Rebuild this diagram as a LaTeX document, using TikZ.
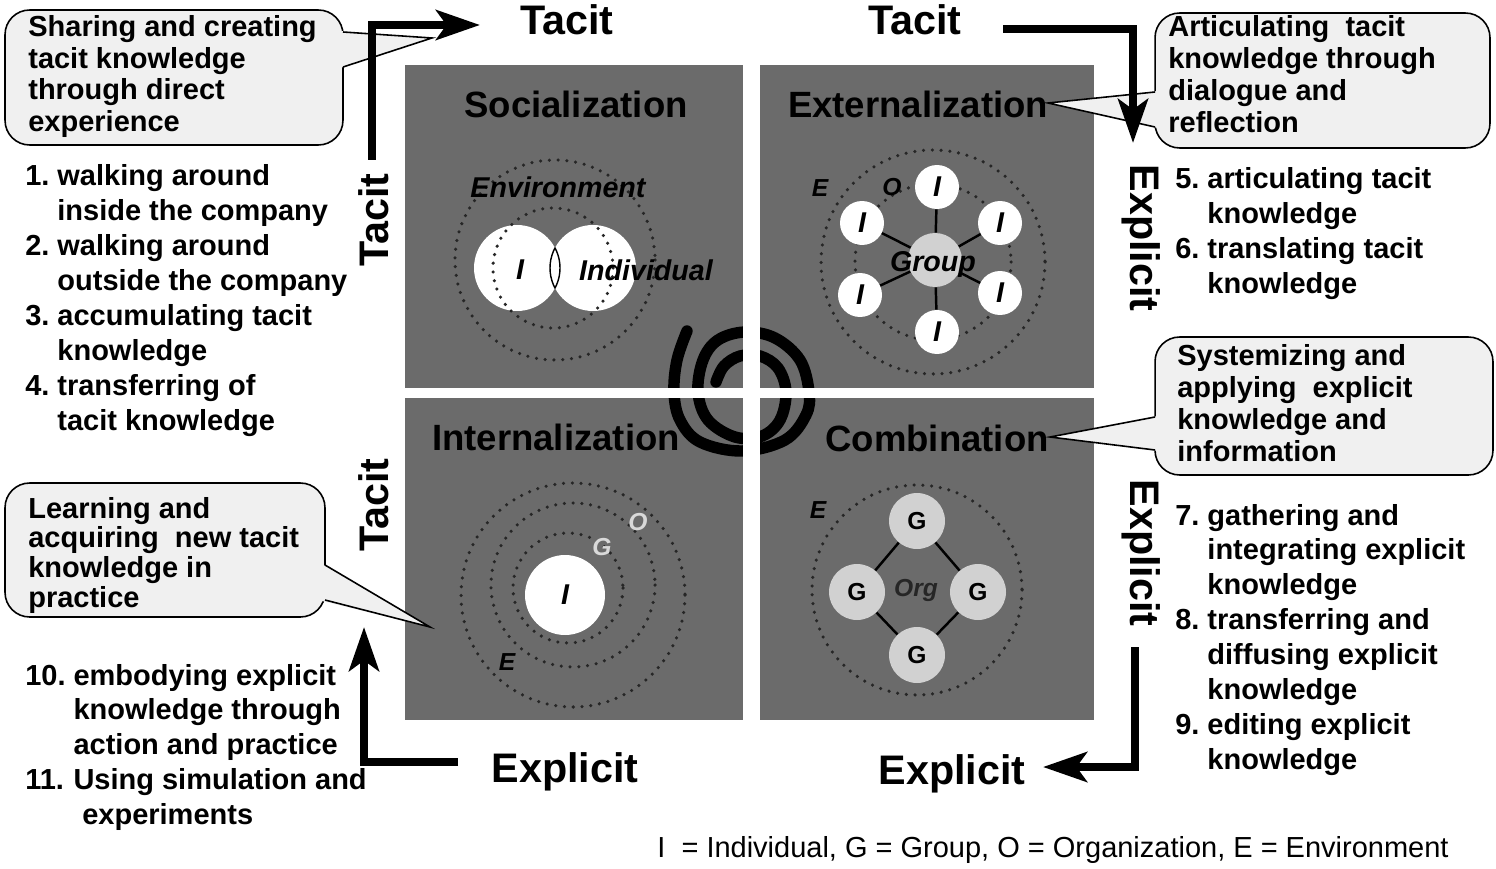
\documentclass[tikz,border=0pt]{standalone}
\usepackage{fontspec}
\setmainfont{Liberation Sans}
\usetikzlibrary{arrows.meta,positioning,calc}

\newcommand{\listfont}{\fontsize{16.5}{19.9}\selectfont\bfseries}
\newcommand{\axisfont}{\fontsize{23.5}{27}\selectfont\bfseries}
\newcommand{\quadfont}{\fontsize{20.8}{24}\selectfont\bfseries}
\newcommand{\tagfont}{\fontsize{16.3}{19}\selectfont\bfseries\itshape}
\newcommand{\lettfont}{\fontsize{14}{16}\selectfont\bfseries}

\tikzset{
  quad/.style={fill=black!58, inner sep=0, minimum width=6.76cm},
  quadtitle/.style={font=\quadfont, inner sep=0},
  callbox/.style={draw, line width=0.9pt, fill=black!6, rounded corners=14pt, inner sep=0},
  calltext/.style={anchor=base west, inner sep=0},
  listtext/.style={anchor=base west, inner sep=0, font=\listfont},
  axislabel/.style={font=\axisfont, inner sep=0},
  bigarrow/.style={line width=4.5pt, line join=miter, -{Stealth[length=25pt, width=17pt, inset=6pt]}},
  icirc/.style={circle, fill=white, minimum size=0.88cm, inner sep=0, font=\tagfont},
  gcirc/.style={circle, fill=black!18, minimum size=1.12cm, inner sep=0, font=\lettfont},
  envring/.style={draw=black!85, line width=2pt, dash pattern=on 0pt off 5pt, line cap=round},
  link/.style={line width=1.4pt},
  spiral/.style={line width=6.5pt, line cap=round},
}

\begin{document}
\begin{tikzpicture}[x=0.02cm, y=-0.02cm]
\useasboundingbox (0,0) rectangle (1496,868);
\fill[white] (0,0) rectangle (1496,868);

% the four modes
\node[quad, minimum height=6.46cm] (soc) at (574,226.5) {};
\node[quad, minimum width=6.68cm, minimum height=6.46cm] (ext) at (927,226.5) {};
\node[quad, minimum height=6.44cm] (int) at (574,559) {};
\node[quad, minimum width=6.68cm, minimum height=6.44cm] (com) at (927,559) {};

% socialization
\draw[envring] (555,260) circle (100);
\node[icirc, minimum size=1.72cm] (indL) at (517,268) {};
\node[icirc, minimum size=1.72cm] (indR) at (593,268) {};
\begin{scope}
  \clip (517,268) circle (43);
  \draw[line width=0.8pt] (593,268) circle (43);
\end{scope}
\begin{scope}
  \clip (593,268) circle (43);
  \draw[line width=0.8pt] (517,268) circle (43);
\end{scope}
\draw[envring] (553,268) circle (60);
\node[font=\tagfont] (envS) at (558,187) {Environment};
\node[font=\tagfont] (iS) at (520,270) {I};
\node[font=\tagfont] (indS) at (646,270) {Individual};

% externalization
\draw[envring] (933,262) circle (112);
\draw[envring] (933,262) circle (78);
\node[gcirc, minimum size=1.08cm] (grp) at (935,260) {};
\node[icirc] (iT) at (937,187) {I};
\node[icirc] (iUL) at (862,223) {I};
\node[icirc] (iUR) at (1000,223) {I};
\node[icirc] (iLL) at (860,295) {I};
\node[icirc] (iLR) at (1000,293) {I};
\node[icirc] (iB) at (937,332) {I};
\foreach \n in {iT,iUL,iUR,iLL,iLR,iB}
  \draw[link] (grp) -- (\n);
\node[font=\tagfont] (grpS) at (933,264) {Group};
\node[font=\lettfont\itshape] (eX) at (820,188) {E};
\node[font=\lettfont\itshape] (oX) at (892,187) {O};

% internalization
\draw[envring] (573,595) circle (112);
\draw[envring] (573,585) circle (82);
\draw[envring] (568,588) circle (55);
\node[icirc, minimum size=1.6cm] (iI) at (565,595) {I};
\node[font=\lettfont\itshape, text=black!15] (gI) at (602,547) {G};
\node[font=\lettfont\itshape, text=black!15] (oI) at (638,522) {O};
\node[font=\lettfont\itshape] (eI) at (507,662) {E};

% combination
\draw[envring] (917,590) circle (105);
\node[gcirc] (gT) at (917,521) {G};
\node[gcirc] (gL) at (857,592) {G};
\node[gcirc] (gR) at (978,592) {G};
\node[gcirc] (gB) at (917,655) {G};
\draw[link] (gT) -- (gR) -- (gB) -- (gL) -- (gT);
\node[font=\lettfont\itshape, text=black!85] (orgC) at (916,590) {Org};
\node[font=\lettfont\itshape] (eC) at (818,510) {E};

% titles
\node[quadtitle] (socT) at (576,104) {Socialization};
\node[quadtitle] (extT) at (918,104) {Externalization};
\node[quadtitle] (intT) at (556,437) {Internalization};
\node[quadtitle] (comT) at (937,438) {Combination};

% spiral, cut by the white cross
\draw[spiral] plot[smooth, tension=0.6] coordinates {(687,331) (677,360) (674,392) (680,420)
  (700,442) (742,451) (785,440) (806,415) (809,392) (800,360) (775,338) (745,332) (718,340)
  (703,360) (698,392) (708,420) (735,437) (762,436) (780,420) (786,392) (778,368) (760,356)
  (740,356) (724,366) (716,382)};
\fill[white] (743,65) rectangle (760,720);
\fill[white] (405,388) rectangle (1094,398);

% callouts
\node[callbox, minimum width=6.76cm, minimum height=2.7cm] (share) at (174,77.5) {};
\coordinate (shareTip) at (432,38);
\fill[black!6] (340,31) -- (shareTip) -- (340,68) -- cycle;
\draw[line width=0.9pt] (343,32) -- (shareTip) -- (343,67);
\node[calltext, font=\fontsize{16.5}{17.9}\selectfont\bfseries] (shareTxt) at (28,37)
  {\begin{tabular}[t]{@{}l@{}}Sharing and creating\\ tacit knowledge\\ through direct\\ experience\end{tabular}};

\node[callbox, minimum width=6.7cm, minimum height=2.7cm] (artic) at (1322.5,80.5) {};
\coordinate (articTip) at (1048,103);
\fill[black!6] (1158,91) -- (articTip) -- (1158,128) -- cycle;
\draw[line width=0.9pt] (1155,92) -- (articTip) -- (1155,127);
\node[calltext, font=\fontsize{16.5}{18.2}\selectfont\bfseries] (articTxt) at (1168,37)
  {\begin{tabular}[t]{@{}l@{}}Articulating\ \ tacit\\ knowledge through\\ dialogue and\\ reflection\end{tabular}};

\node[callbox, minimum width=6.76cm, minimum height=2.76cm] (system) at (1324,406) {};
\coordinate (systemTip) at (1050,437);
\fill[black!6] (1158,416) -- (systemTip) -- (1158,451) -- cycle;
\draw[line width=0.9pt] (1155,417) -- (systemTip) -- (1155,450);
\node[calltext, font=\fontsize{16.5}{18.4}\selectfont\bfseries] (systemTxt) at (1177,365)
  {\begin{tabular}[t]{@{}l@{}}Systemizing and\\ applying\ \ explicit\\ knowledge and\\ information\end{tabular}};

\node[callbox, minimum width=6.4cm, minimum height=2.68cm] (learn) at (165,550) {};
\coordinate (learnTip) at (430,627);
\fill[black!6] (322,564) -- (learnTip) -- (322,601) -- cycle;
\draw[line width=0.9pt] (325,565) -- (learnTip) -- (325,600);
\node[calltext, font=\fontsize{16.5}{16.8}\selectfont\bfseries] (learnTxt) at (28,518)
  {\begin{tabular}[t]{@{}l@{}}Learning and\\ acquiring\ \ new tacit\\ knowledge in\\ practice\end{tabular}};

% tacit / explicit axes
\coordinate (tlA) at (372,160);
\coordinate (tlB) at (372,25);
\coordinate (tlC) at (480,25);
\draw[bigarrow] (tlA) -- (tlB) -- (tlC);
\coordinate (trA) at (1003,29);
\coordinate (trB) at (1133,29);
\coordinate (trC) at (1133,143);
\draw[bigarrow] (trA) -- (trB) -- (trC);
\coordinate (brA) at (1135,647);
\coordinate (brB) at (1135,767);
\coordinate (brC) at (1043,767);
\draw[bigarrow] (brA) -- (brB) -- (brC);
\coordinate (blA) at (458,762);
\coordinate (blB) at (364,762);
\coordinate (blC) at (364,627);
\draw[bigarrow] (blA) -- (blB) -- (blC);

\node[axislabel] (tacitTop) at (567,20) {Tacit};
\node[axislabel] (tacitTopR) at (915,20) {Tacit};
\node[axislabel, anchor=base] (explBotL) at (565,782) {Explicit};
\node[axislabel, anchor=base] (explBotR) at (952,784) {Explicit};
\node[axislabel, rotate=90] (tacitLeftT) at (374,220) {Tacit};
\node[axislabel, rotate=90] (tacitLeftB) at (374,505) {Tacit};
\node[axislabel, rotate=-90] (explRightT) at (1141,238) {Explicit};
\node[axislabel, rotate=-90] (explRightB) at (1141,553) {Explicit};

% activity lists
\node[listtext] (listSoc) at (25,186)
  {\begin{tabular}[t]{@{}l@{\hspace{4.5pt}}l@{}}
  1. & walking around\\ & inside the company\\
  2. & walking around\\ & outside the company\\
  3. & accumulating tacit\\ & knowledge\\
  4. & transferring of\\ & tacit knowledge\end{tabular}};
\node[listtext] (listExt) at (1175,189)
  {\begin{tabular}[t]{@{}l@{\hspace{4.5pt}}l@{}}
  5. & articulating tacit\\ & knowledge\\
  6. & translating tacit\\ & knowledge\end{tabular}};
\node[listtext] (listCom) at (1175,525)
  {\begin{tabular}[t]{@{}l@{\hspace{4.5pt}}l@{}}
  7. & gathering and\\ & integrating explicit\\ & knowledge\\
  8. & transferring and\\ & diffusing explicit\\ & knowledge\\
  9. & editing explicit\\ & knowledge\end{tabular}};
\node[listtext] (listInt) at (25,685)
  {\begin{tabular}[t]{@{}l@{\hspace{4.5pt}}l@{}}
  10. & embodying explicit\\ & knowledge through\\ & action and practice\\
  11. & Using simulation and\\ & \hspace*{5pt}experiments\end{tabular}};

\node[anchor=base west, inner sep=0, font=\fontsize{16.5}{19}\selectfont] (legend) at (657,857)
  {I\ \ = Individual, G = Group, O = Organization, E = Environment};
\end{tikzpicture}
\end{document}
